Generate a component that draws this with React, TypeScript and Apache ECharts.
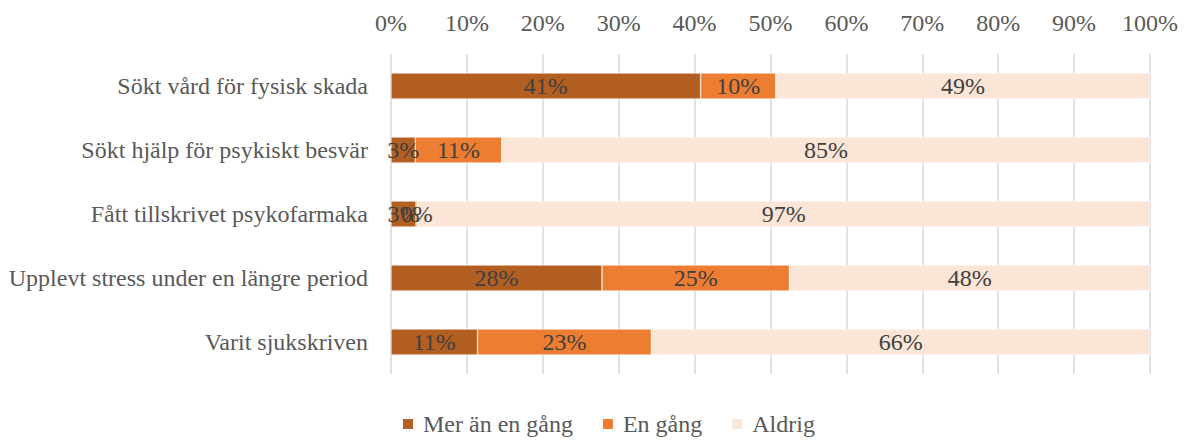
import React, { useEffect, useRef } from "react";
import * as echarts from "echarts";

const categories = [
  "Sökt vård för fysisk skada",
  "Sökt hjälp för psykiskt besvär",
  "Fått tillskrivet psykofarmaka",
  "Upplevt stress under en längre period",
  "Varit sjukskriven",
];
const merAnEnGang = [40.8, 3.2, 3.3, 27.8, 11.4];
const enGang = [9.9, 11.4, 0.2, 24.7, 22.9];
const aldrig = [49.3, 85.4, 96.5, 47.5, 65.7];
const seriesNames = ["Mer än en gång", "En gång", "Aldrig"];
const colors = ["#B45F22", "#ED7D31", "#FBE5D6"];

export default function App() {
  const ref = useRef<HTMLDivElement>(null);
  useEffect(() => {
    document.body.style.margin = "0";
    if (!ref.current) return;
    const chart = echarts.init(ref.current, undefined, { renderer: "svg" });
    const font = "'Liberation Serif', 'Times New Roman', serif";
    const data = [merAnEnGang, enGang, aldrig];
    chart.setOption({
      animation: false,
      textStyle: { fontFamily: font },
      legend: {
        top: 407,
        left: 396,
        itemWidth: 12,
        itemHeight: 12,
        itemGap: 28,
        icon: "rect",
        textStyle: { fontFamily: font, fontSize: 24, color: "#595959", padding: [0, 0, 0, 4] },
        data: seriesNames,
      },
      grid: { left: 391, right: 36, top: 54, height: 320 },
      xAxis: {
        type: "value",
        position: "top",
        min: 0,
        max: 100,
        interval: 10,
        axisLine: { show: false },
        axisTick: { show: false },
        axisLabel: {
          formatter: "{value}%",
          fontFamily: font,
          fontSize: 24,
          color: "#595959",
          margin: 19,
        },
        splitLine: { lineStyle: { color: "#D9D9D9", width: 1.5 } },
      },
      yAxis: {
        type: "category",
        inverse: true,
        data: categories,
        axisLine: { show: false },
        axisTick: { show: false },
        axisLabel: {
          fontFamily: font,
          fontSize: 24,
          color: "#595959",
          margin: 23,
        },
      },
      series: seriesNames.map((name, i) => ({
        name,
        type: "bar",
        stack: "total",
        barWidth: 26,
        data: data[i],
        itemStyle: { color: colors[i], borderColor: "#FFFFFF", borderWidth: 0.5 },
        label: {
          show: true,
          position: "inside",
          fontFamily: font,
          fontSize: 24,
          color: "#404040",
          formatter: (p: any) => Math.round(p.value) + "%",
        },
        labelLayout: { hideOverlap: false },
      })),
    });
    return () => chart.dispose();
  }, []);
  return <div ref={ref} style={{ width: 1186, height: 440 }} />;
}
